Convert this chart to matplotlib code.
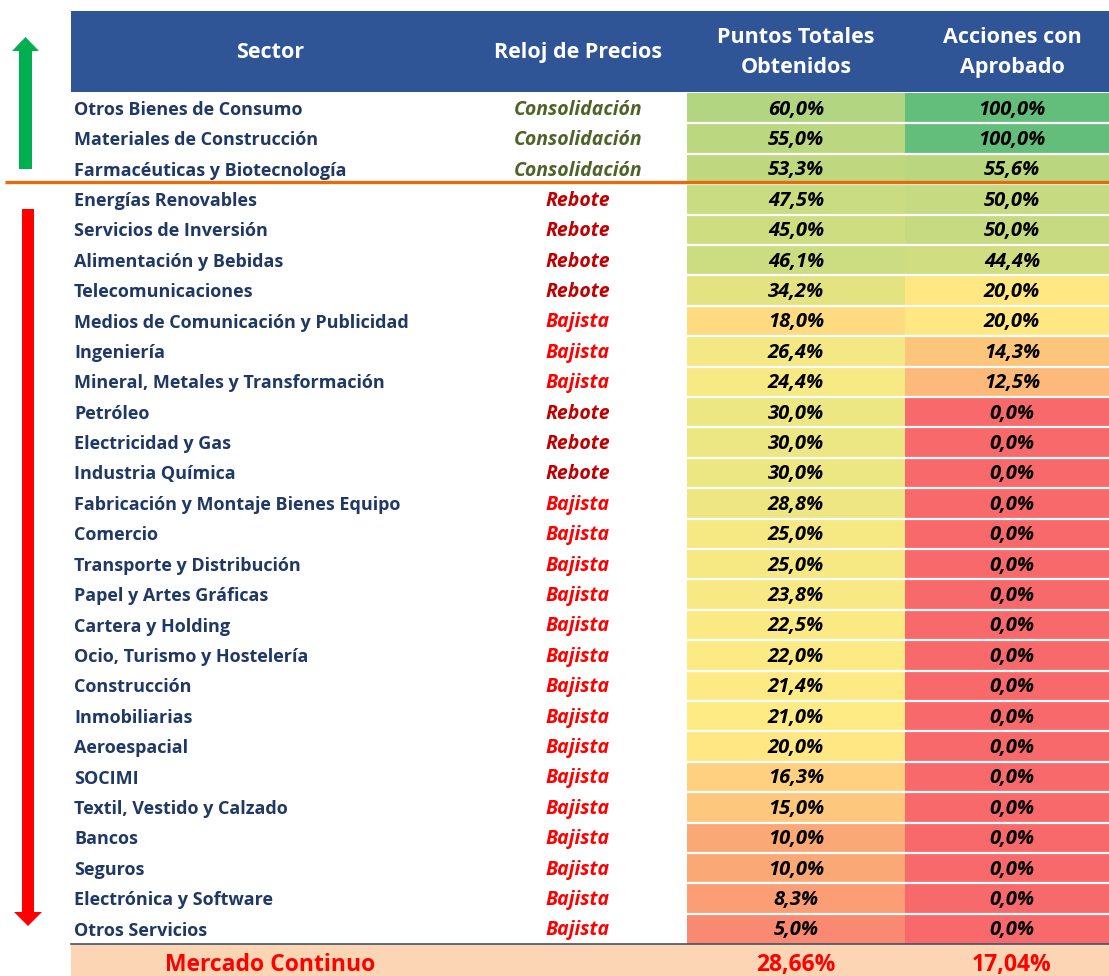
import matplotlib
matplotlib.use("Agg")
import matplotlib.pyplot as plt
from matplotlib.colors import LinearSegmentedColormap, TwoSlopeNorm
from matplotlib.patches import Rectangle, FancyArrow

# ---------------- data ----------------
sectors = [
    "Otros Bienes de Consumo", "Materiales de Construcción", "Farmacéuticas y Biotecnología",
    "Energías Renovables", "Servicios de Inversión", "Alimentación y Bebidas",
    "Telecomunicaciones", "Medios de Comunicación y Publicidad", "Ingeniería",
    "Mineral, Metales y Transformación", "Petróleo", "Electricidad y Gas",
    "Industria Química", "Fabricación y Montaje Bienes Equipo", "Comercio",
    "Transporte y Distribución", "Papel y Artes Gráficas", "Cartera y Holding",
    "Ocio, Turismo y Hostelería", "Construcción", "Inmobiliarias", "Aeroespacial",
    "SOCIMI", "Textil, Vestido y Calzado", "Bancos", "Seguros",
    "Electrónica y Software", "Otros Servicios",
]
reloj = [
    "Consolidación", "Consolidación", "Consolidación",
    "Rebote", "Rebote", "Rebote", "Rebote",
    "Bajista", "Bajista", "Bajista",
    "Rebote", "Rebote", "Rebote",
    "Bajista", "Bajista", "Bajista", "Bajista", "Bajista", "Bajista", "Bajista",
    "Bajista", "Bajista", "Bajista", "Bajista", "Bajista", "Bajista", "Bajista", "Bajista",
]
puntos = [60.0, 55.0, 53.3, 47.5, 45.0, 46.1, 34.2, 18.0, 26.4, 24.4, 30.0, 30.0, 30.0,
          28.8, 25.0, 25.0, 23.8, 22.5, 22.0, 21.4, 21.0, 20.0, 16.3, 15.0, 10.0, 10.0,
          8.3, 5.0]
acciones = [100.0, 100.0, 55.6, 50.0, 50.0, 44.4, 20.0, 20.0, 14.3, 12.5, 0.0, 0.0, 0.0,
            0.0, 0.0, 0.0, 0.0, 0.0, 0.0, 0.0, 0.0, 0.0, 0.0, 0.0, 0.0, 0.0, 0.0, 0.0]
headers = ["Sector", "Reloj de Precios", "Puntos Totales\nObtenidos", "Acciones con\nAprobado"]
total_label = "Mercado Continuo"
total_puntos = 28.66
total_acciones = 17.04
n_top = 3  # rows above the orange divider

# ---------------- style ----------------
FONT = "Open Sans"
HEADER_BG = "#2F5597"
SECTOR_COLOR = "#1F3864"
RELOJ_COLORS = {"Consolidación": "#4F6228", "Rebote": "#C00000", "Bajista": "#FF0000"}
cmap = LinearSegmentedColormap.from_list("excel3", ["#F8696B", "#FFEB84", "#63BE7B"])
norm = TwoSlopeNorm(vmin=0, vcenter=20.5, vmax=100)


def fmt(v, d=1):
    return f"{v:.{d}f}%".replace(".", ",")


W, H = 1109, 976
fig = plt.figure(figsize=(W / 100, H / 100), dpi=100)
ax = fig.add_axes([0, 0, 1, 1])
ax.set_xlim(0, W)
ax.set_ylim(H, 0)
ax.axis("off")

# layout
tab_left = 71
col_reloj_c = 578
col_p_left, col_p_right = 687, 905
col_a_left, col_a_right = 905, W
p_center = 796
a_center = 1012
header_top, header_bot = 11, 92
row_top0 = 93
row_h = 30.4

# header
ax.add_patch(Rectangle((tab_left, header_top), W - tab_left, header_bot - header_top,
                       facecolor=HEADER_BG, edgecolor="none"))
hy = (header_top + header_bot) / 2 + 1
for text, x in zip(headers, [270, col_reloj_c, p_center, a_center]):
    ax.text(x, hy, text, ha="center", va="center", color="white", fontsize=15.5,
            fontweight="bold", family=FONT, linespacing=1.62)

# rows
for i, (s, r, p, a) in enumerate(zip(sectors, reloj, puntos, acciones)):
    top = row_top0 + i * row_h
    cy = top + row_h / 2 + 1.5
    ax.add_patch(Rectangle((col_p_left, top), col_p_right - col_p_left, row_h,
                           facecolor=cmap(norm(p)), edgecolor="none"))
    ax.add_patch(Rectangle((col_a_left, top), col_a_right - col_a_left, row_h,
                           facecolor=cmap(norm(a)), edgecolor="none"))
    if i > 0:
        ax.plot([col_p_left, W], [top, top], color="white", lw=1.6, solid_capstyle="butt")
    ax.text(74, cy, s, ha="left", va="center", color=SECTOR_COLOR, fontsize=13,
            fontweight="bold", family=FONT)
    ax.text(col_reloj_c, cy, r, ha="center", va="center", color=RELOJ_COLORS[r],
            fontsize=14, fontweight="bold", fontstyle="italic", family=FONT)
    ax.text(p_center, cy, fmt(p), ha="center", va="center", color="black",
            fontsize=14.5, fontweight="bold", fontstyle="italic", family=FONT)
    ax.text(a_center, cy, fmt(a), ha="center", va="center", color="black",
            fontsize=14.5, fontweight="bold", fontstyle="italic", family=FONT)

# total row
tot_top = row_top0 + len(sectors) * row_h
ax.add_patch(Rectangle((tab_left, tot_top), W - tab_left, H - tot_top + 5,
                       facecolor="#FCD5B4", edgecolor="none"))
ax.plot([tab_left, W], [tot_top, tot_top], color="#44546A", lw=1.2)
ty = tot_top + 21
for text, x in zip([total_label, fmt(total_puntos, 2), fmt(total_acciones, 2)],
                   [270, p_center, a_center]):
    ax.text(x, ty, text, ha="center", va="center", color="#FF0000", fontsize=16.5,
            fontweight="bold", family=FONT)

# orange divider
div_y = row_top0 + n_top * row_h - 2
ax.plot([5, W], [div_y, div_y], color="#E46C0A", lw=2.4, solid_capstyle="butt")

# arrows
ax.add_patch(FancyArrow(25.5, 169, 0, 37 - 169, width=13, head_width=27, head_length=14,
                        length_includes_head=True, color="#00B050", ec="none"))
ax.add_patch(FancyArrow(28, 209, 0, 926 - 209, width=12, head_width=28, head_length=14,
                        length_includes_head=True, color="#FF0000", ec="none"))

fig.savefig("out.png", dpi=100)
